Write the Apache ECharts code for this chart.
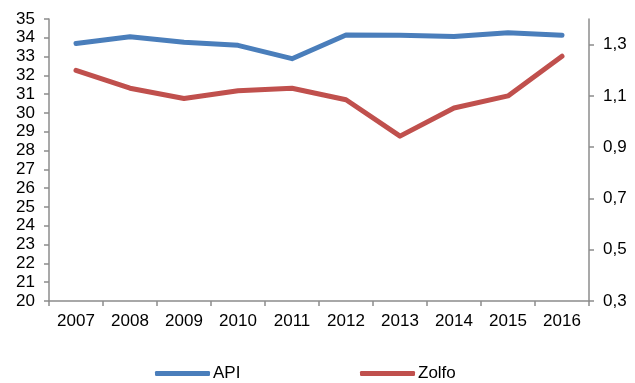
<!DOCTYPE html>
<html>
<head>
<meta charset="utf-8">
<script src="https://cdn.jsdelivr.net/npm/echarts@6/dist/echarts.min.js"></script>
<style>
  html, body { margin: 0; padding: 0; background: #fff; }
  #chart { width: 635px; height: 383px; }
</style>
</head>
<body>
<div id="chart"></div>
<script>
// Years on the category axis
const years = ['2007', '2008', '2009', '2010', '2011', '2012', '2013', '2014', '2015', '2016'];
// API gravity (left axis)
const apiValues = [33.7, 34.06, 33.76, 33.6, 32.89, 34.15, 34.13, 34.07, 34.27, 34.13];
// Sulphur content (right axis)
const zolfoValues = [1.20, 1.13, 1.09, 1.12, 1.13, 1.085, 0.943, 1.053, 1.10, 1.255];
// Labelled ticks on the right axis
const rightTicks = [0.3, 0.5, 0.7, 0.9, 1.1, 1.3];

const axisGray = '#8c8c8c';
const font = 'Liberation Sans, Arial, sans-serif';

const chart = echarts.init(document.getElementById('chart'), null, { renderer: 'canvas' });
chart.setOption({
  animation: false,
  backgroundColor: '#ffffff',
  grid: { left: 49, right: 46, top: 19, bottom: 82, containLabel: false },
  legend: [
    {
      data: ['API'], left: 155, top: 365, padding: 0, icon: 'roundRect',
      itemWidth: 55, itemHeight: 5, itemGap: 0,
      textStyle: { fontFamily: font, fontSize: 17, color: '#000', padding: [0, 0, 0, -2] }
    },
    {
      data: ['Zolfo'], left: 360, top: 365, padding: 0, icon: 'roundRect',
      itemWidth: 55, itemHeight: 5, itemGap: 0,
      textStyle: { fontFamily: font, fontSize: 17, color: '#000', padding: [0, 0, 0, -2] }
    }
  ],
  xAxis: {
    type: 'category',
    data: years,
    boundaryGap: true,
    axisLine: { lineStyle: { color: axisGray, width: 1.5 } },
    axisTick: { show: true, length: 5, lineStyle: { color: axisGray, width: 1.5 } },
    axisLabel: { fontFamily: font, fontSize: 17, color: '#000', margin: 12 },
    splitLine: { show: false }
  },
  yAxis: [
    {
      type: 'value', position: 'left', min: 20, max: 35, interval: 1,
      axisLine: { show: true, lineStyle: { color: axisGray, width: 1.5 } },
      axisTick: { show: true, length: 5, lineStyle: { color: axisGray, width: 1.5 } },
      axisLabel: { fontFamily: font, fontSize: 17, color: '#000', margin: 14 },
      splitLine: { show: false }
    },
    {
      type: 'value', position: 'right', min: 0.3, max: 1.4,
      axisLine: { show: true, lineStyle: { color: axisGray, width: 1.5 } },
      axisTick: { show: true, length: 5, customValues: rightTicks, lineStyle: { color: axisGray, width: 1.5 } },
      axisLabel: {
        fontFamily: font, fontSize: 17, color: '#000', margin: 14,
        customValues: rightTicks,
        formatter: v => v.toFixed(1).replace('.', ',')
      },
      splitLine: { show: false }
    }
  ],
  series: [
    {
      name: 'API', type: 'line', yAxisIndex: 0, data: apiValues,
      showSymbol: false, symbol: 'none', smooth: false,
      lineStyle: { color: '#4a7ebb', width: 5, cap: 'round', join: 'round' },
      itemStyle: { color: '#4a7ebb' }
    },
    {
      name: 'Zolfo', type: 'line', yAxisIndex: 1, data: zolfoValues,
      showSymbol: false, symbol: 'none', smooth: false,
      lineStyle: { color: '#c0504d', width: 5, cap: 'round', join: 'round' },
      itemStyle: { color: '#c0504d' }
    }
  ]
});
</script>
</body>
</html>
